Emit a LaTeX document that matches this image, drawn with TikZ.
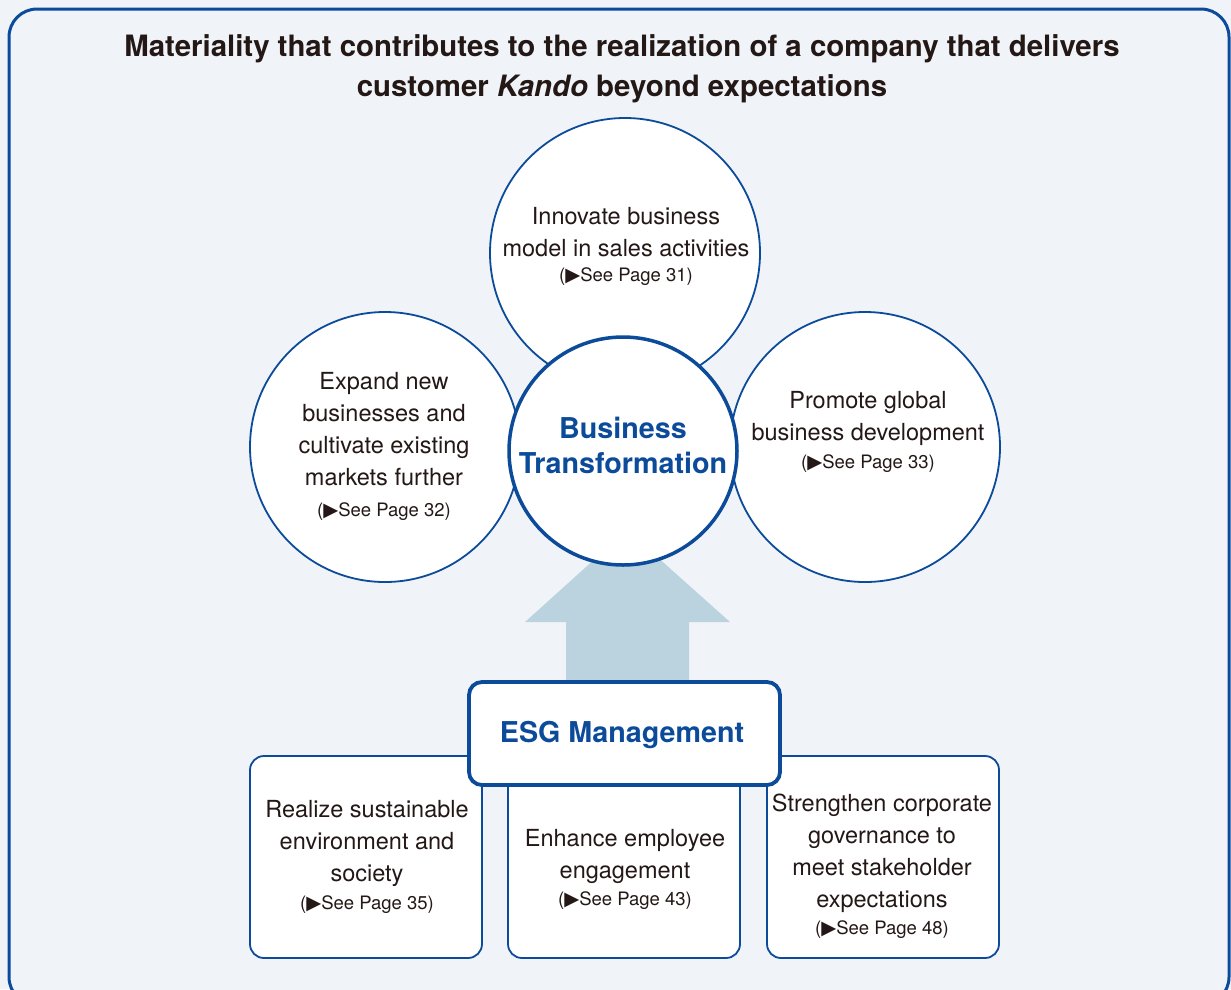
\documentclass[tikz,border=0pt]{standalone}
\usepackage{fontspec}
\setmainfont{TeX Gyre Heros}
\newfontfamily\symfont{DejaVu Sans}
\definecolor{navy}{HTML}{0B4B9A}
\definecolor{ink}{HTML}{231815}
\definecolor{bgpanel}{HTML}{F0F4F8}
\definecolor{arrowblue}{HTML}{BBD3DF}
\newcommand{\tri}{{\symfont\scalebox{1.05}{▶}}}
\begin{document}
\begin{tikzpicture}[x=1pt,y=-1pt,
  panel/.style={draw=navy,line width=3pt,fill=bgpanel,rounded corners=28pt},
  outercirc/.style={circle,draw=navy,line width=1.8pt,fill=white,minimum size=270pt,inner sep=0pt},
  centercirc/.style={circle,draw=navy,line width=3.5pt,fill=white,minimum size=228pt,inner sep=0pt},
  itembox/.style={draw=navy,line width=1.8pt,fill=white,rounded corners=14pt},
  esgbox/.style={draw=navy,line width=3.8pt,fill=white,rounded corners=13pt,minimum width=311pt,minimum height=103pt,inner sep=0pt},
  bodytext/.style={text=ink,align=center,font=\fontsize{23.5}{32}\selectfont,inner sep=0pt},
  reftext/.style={text=ink,font=\fontsize{18.5}{20}\selectfont,inner sep=0pt},
  keytext/.style={text=navy,align=center,font=\bfseries\fontsize{28.7}{35}\selectfont,inner sep=0pt},
  titletext/.style={text=ink,align=center,font=\bfseries\fontsize{29.4}{40}\selectfont,inner sep=0pt}]
\useasboundingbox (0,0) rectangle (1231,989);
\fill[bgpanel] (0,0) rectangle (1231,989);
\draw[panel] (9,9) rectangle (1229,1005);
\node[titletext] (title) at (622,69) {Materiality that contributes to the realization of a company that delivers\\customer \textit{Kando} beyond expectations};
% arrow
\fill[arrowblue] (566,690) -- (566,622) -- (525,622) -- (627,530) -- (730,622) -- (689,622) -- (689,690) -- cycle;
% outer circles
\node[outercirc] (ctop) at (625,253) {};
\node[outercirc] (cleft) at (385,447) {};
\node[outercirc] (cright) at (865,447) {};
\node[centercirc] (ccenter) at (623,451) {};
% circle texts
\node[bodytext] (ttop) at (626,232) {Innovate business\\model in sales activities};
\node[reftext] (rtop) at (626,277) {(\tri See Page 31)};
\node[bodytext] (tleft) at (384,429) {Expand new\\businesses and\\cultivate existing\\markets further};
\node[reftext] (rleft) at (384,512) {(\tri See Page 32)};
\node[bodytext] (tright) at (868,418) {Promote global\\business development};
\node[reftext] (rright) at (868,464) {(\tri See Page 33)};
\node[keytext] (tcenter) at (623,445) {Business\\Transformation};
% bottom boxes
\draw[itembox] (250,756) rectangle (482,958);
\draw[itembox] (508,756) rectangle (740,958);
\draw[itembox] (767,756) rectangle (999,958);
\node[bodytext] (tb1) at (367,843) {Realize sustainable\\environment and\\society};
\node[reftext] (rb1) at (367,905) {(\tri See Page 35)};
\node[bodytext] (tb2) at (625,856) {Enhance employee\\engagement};
\node[reftext] (rb2) at (625,901) {(\tri See Page 43)};
\node[bodytext] (tb3) at (882,853) {Strengthen corporate\\governance to\\meet stakeholder\\expectations};
\node[reftext] (rb3) at (882,930) {(\tri See Page 48)};
% ESG box
\node[esgbox] (esg) at (624.5,733.5) {};
\node[keytext] (tesg) at (622,735) {ESG Management};
\end{tikzpicture}
\end{document}
